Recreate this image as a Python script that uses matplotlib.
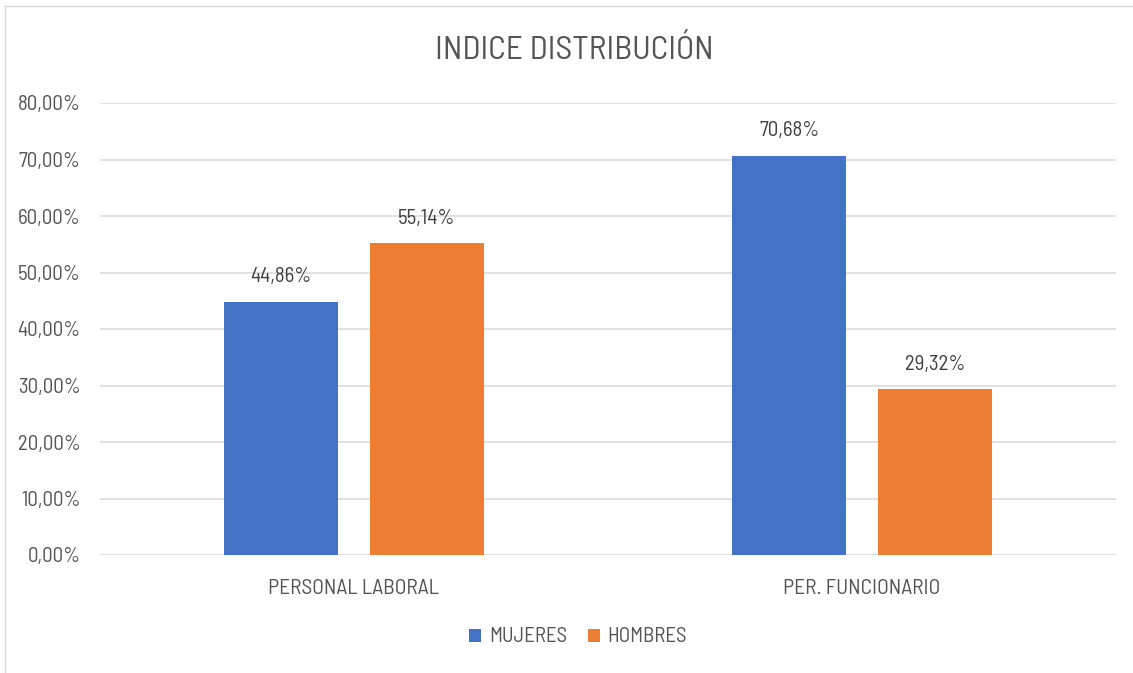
import numpy as np
import matplotlib.pyplot as plt
from matplotlib import font_manager

categories = ["PERSONAL LABORAL", "PER. FUNCIONARIO"]
mujeres = [44.86, 70.68]
hombres = [55.14, 29.32]
series_names = ["MUJERES", "HOMBRES"]
yticks = [0, 10, 20, 30, 40, 50, 60, 70, 80]


def pick_narrow_font():
    # look for a condensed / narrow regular sans face, Calibri-like width
    prefs = ['Open Sans', 'Noto Sans', 'Roboto', 'Liberation Sans', 'DejaVu Sans', 'Lato', 'Inter']
    found = []
    for f in font_manager.fontManager.ttflist:
        narrow = (f.stretch in ('condensed', 'semi-condensed')
                  or 'Condensed' in f.name or 'Narrow' in f.name)
        if not narrow or f.style != 'normal':
            continue
        if f.weight not in (400, 'normal', 'regular', 'book'):
            continue
        if 'Mono' in f.name or 'Serif' in f.name:
            continue
        rank = len(prefs)
        for i, p in enumerate(prefs):
            if f.name.startswith(p):
                rank = i
                break
        semi = 0 if f.stretch == 'semi-condensed' or 'SemiCondensed' in f.fname else 1
        found.append((semi, rank, f))
    if not found:
        return None
    found.sort(key=lambda t: (t[0], t[1]))
    return found[0][2]


nf = pick_narrow_font()
if nf is not None:
    plt.rcParams['font.family'] = [nf.name, 'DejaVu Sans']
    plt.rcParams['font.stretch'] = nf.stretch
    k = 1.0
else:
    plt.rcParams['font.family'] = ['Roboto', 'DejaVu Sans']
    k = 0.87

txt = '#555555'
blue = '#4472C4'
orange = '#ED7D31'

fig = plt.figure(figsize=(11.33, 6.73), dpi=100)
ax = fig.add_axes([100/1133, 1 - 555/673, 1016/1133, 452/673])

x = np.arange(len(categories))
w = 0.224
off = 0.1435
b1 = ax.bar(x - off, mujeres, w, color=blue, label=series_names[0], zorder=3)
b2 = ax.bar(x + off, hombres, w, color=orange, label=series_names[1], zorder=3)

for bars, vals in ((b1, mujeres), (b2, hombres)):
    for r, v in zip(bars, vals):
        ax.annotate(('%.2f%%' % v).replace('.', ','),
                    (r.get_x() + r.get_width() / 2, v),
                    xytext=(0, 11), textcoords='offset points',
                    ha='center', va='bottom', fontsize=15 * k, color='#404040')

ax.set_xlim(-0.5, 1.5)
ax.set_ylim(0, 80)
ax.set_yticks(yticks)
ax.set_yticklabels([('%.2f%%' % t).replace('.', ',') for t in yticks])
ax.set_xticks(x)
ax.set_xticklabels(categories)
ax.tick_params(axis='y', length=0, labelsize=15 * k, colors=txt, pad=14)
ax.tick_params(axis='x', length=0, labelsize=15.5 * k, colors=txt, pad=17.5)
ax.grid(axis='y', color='#D9D9D9', linewidth=1.1, zorder=0)
for s in ax.spines.values():
    s.set_visible(False)

fig.text(574/1133, 1 - 51/673, "INDICE DISTRIBUCIÓN", ha='center', va='center',
         fontsize=24 * k, color=txt)

leg = fig.legend(loc='center', bbox_to_anchor=(578/1133, 1 - 637/673), ncol=2,
                 frameon=False, fontsize=15 * k, handlelength=0.6, handleheight=0.6,
                 handletextpad=0.35, columnspacing=1.0)
for t in leg.get_texts():
    t.set_color(txt)

# chart border (left and top visible in the reference)
fig.add_artist(plt.Line2D([5/1133, 5/1133], [0, 1 - 6/673], transform=fig.transFigure,
                          color='#D9D9D9', linewidth=1))
fig.add_artist(plt.Line2D([5/1133, 1], [1 - 6/673, 1 - 6/673], transform=fig.transFigure,
                          color='#D9D9D9', linewidth=1))

fig.savefig('out.png', dpi=100)
